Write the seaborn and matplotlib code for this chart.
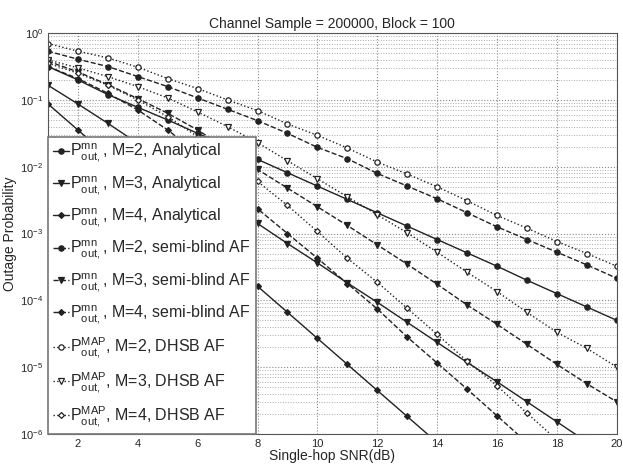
import numpy as np
import matplotlib
matplotlib.use("Agg")
import matplotlib.pyplot as plt
import seaborn as sns

#SNR points (dB)
snr = list(range(1, 21))

#outage probability, stored as log10 values
a2 = [-0.50, -0.70, -0.92, -1.11, -1.30, -1.50, -1.70, -1.89, -2.09, -2.29,
      -2.49, -2.69, -2.89, -3.09, -3.29, -3.49, -3.70, -3.90, -4.10, -4.30]
a3 = [-0.78, -1.06, -1.35, -1.65, -1.95, -2.25, -2.55, -2.85, -3.15, -3.44,
      -3.74, -4.03, -4.33, -4.63, -4.93, -5.22, -5.52, -5.82, -6.12, -6.42]
a4 = [-1.06, -1.45, -1.84, -2.23, -2.62, -3.01, -3.40, -3.79, -4.18, -4.57,
      -4.96, -5.35, -5.74, -6.13, -6.52, -6.91, -7.30, -7.69, -8.08, -8.47]
sb2 = [-0.27, -0.39, -0.50, -0.65, -0.80, -0.97, -1.14, -1.31, -1.50, -1.71,
       -1.88, -2.10, -2.29, -2.48, -2.69, -2.90, -3.09, -3.28, -3.47, -3.67]
sb3 = [-0.42, -0.58, -0.77, -0.98, -1.20, -1.45, -1.74, -2.04, -2.32, -2.60,
       -2.88, -3.17, -3.46, -3.76, -4.07, -4.36, -4.66, -4.96, -5.25, -5.52]
sb4 = [-0.50, -0.68, -0.90, -1.15, -1.45, -1.80, -2.20, -2.63, -3.00, -3.37,
       -3.75, -4.13, -4.55, -4.94, -5.33, -5.73, -6.13, -6.53, -6.93, -7.33]
dh2 = [-0.155, -0.27, -0.37, -0.51, -0.68, -0.83, -1.00, -1.16, -1.36, -1.53,
       -1.72, -1.93, -2.11, -2.30, -2.51, -2.73, -2.92, -3.12, -3.30, -3.49]
dh3 = [-0.40, -0.52, -0.65, -0.80, -0.97, -1.18, -1.40, -1.64, -1.91, -2.18,
       -2.45, -2.72, -2.99, -3.28, -3.58, -3.87, -4.18, -4.48, -4.72, -5.00]
dh4 = [-0.45, -0.60, -0.78, -1.00, -1.25, -1.55, -1.88, -2.22, -2.58, -2.97,
       -3.37, -3.73, -4.12, -4.51, -4.91, -5.28, -5.69, -6.09, -6.49, -6.89]

labels = [r'$\mathregular{P^{mn}_{out,}}$, M=2, Analytical',
          r'$\mathregular{P^{mn}_{out,}}$, M=3, Analytical',
          r'$\mathregular{P^{mn}_{out,}}$, M=4, Analytical',
          r'$\mathregular{P^{mn}_{out,}}$, M=2, semi-blind AF',
          r'$\mathregular{P^{mn}_{out,}}$, M=3, semi-blind AF',
          r'$\mathregular{P^{mn}_{out,}}$, M=4, semi-blind AF',
          r'$\mathregular{P^{MAP}_{out,}}$, M=2, DHSB AF',
          r'$\mathregular{P^{MAP}_{out,}}$, M=3, DHSB AF',
          r'$\mathregular{P^{MAP}_{out,}}$, M=4, DHSB AF']
series = [a2, a3, a4, sb2, sb3, sb4, dh2, dh3, dh4]
markers = ['o', 'v', 'D', 'o', 'v', 'D', 'o', 'v', 'D']
styles = ['-', '-', '-', '--', '--', '--', ':', ':', ':']
faces = ['#222222'] * 6 + ['white'] * 3

sns.set_style("white")
plt.rcParams['font.family'] = ['Liberation Sans', 'DejaVu Sans']
plt.rcParams['mathtext.fontset'] = 'custom'
plt.rcParams['mathtext.rm'] = 'Liberation Sans'

fig = plt.figure(figsize=(6.23, 4.67), dpi=100)
ax = fig.add_axes([0.077, 0.071, 0.913, 0.858])

for vals, lab, mk, ls, fc in zip(series, labels, markers, styles, faces):
    sns.lineplot(x=snr, y=10 ** np.array(vals), ax=ax, color='#222222',
                 linestyle=ls, linewidth=1.0, marker=mk,
                 markersize=3.8 if mk != 'D' else 3.0,
                 markerfacecolor=fc, markeredgecolor='#222222', markeredgewidth=0.9,
                 label=lab)

ax.set_yscale('log')
ax.set_xlim(1, 20)
ax.set_ylim(1e-6, 1)
ax.set_xticks(range(2, 21, 2))
ax.set_yticks([10.0 ** k for k in range(-6, 1)])
ax.grid(True, which='major', color='#888888', linestyle=':', linewidth=0.8)
ax.grid(True, which='minor', axis='y', color='#aaaaaa', linestyle=':', linewidth=0.7)
ax.tick_params(axis='both', which='major', labelsize=8, direction='in', length=3)
ax.tick_params(axis='y', which='minor', direction='in', length=2)
for s in ax.spines.values():
    s.set_color('#555555')
    s.set_linewidth(0.8)

ax.set_title('Channel Sample = 200000, Block = 100', fontsize=10, pad=4)
ax.set_xlabel('Single-hop SNR(dB)', fontsize=10, labelpad=0)
ax.set_ylabel('Outage Probability', fontsize=10, labelpad=2)

leg = ax.legend(loc='lower left', fontsize=11.5, frameon=True, fancybox=False,
                borderaxespad=0, borderpad=0.3, labelspacing=0.6,
                handlelength=1.0, handletextpad=0.1, framealpha=1)
leg.get_frame().set_edgecolor('#777777')
leg.get_frame().set_linewidth(1.2)

fig.savefig('out.png', dpi=100)
